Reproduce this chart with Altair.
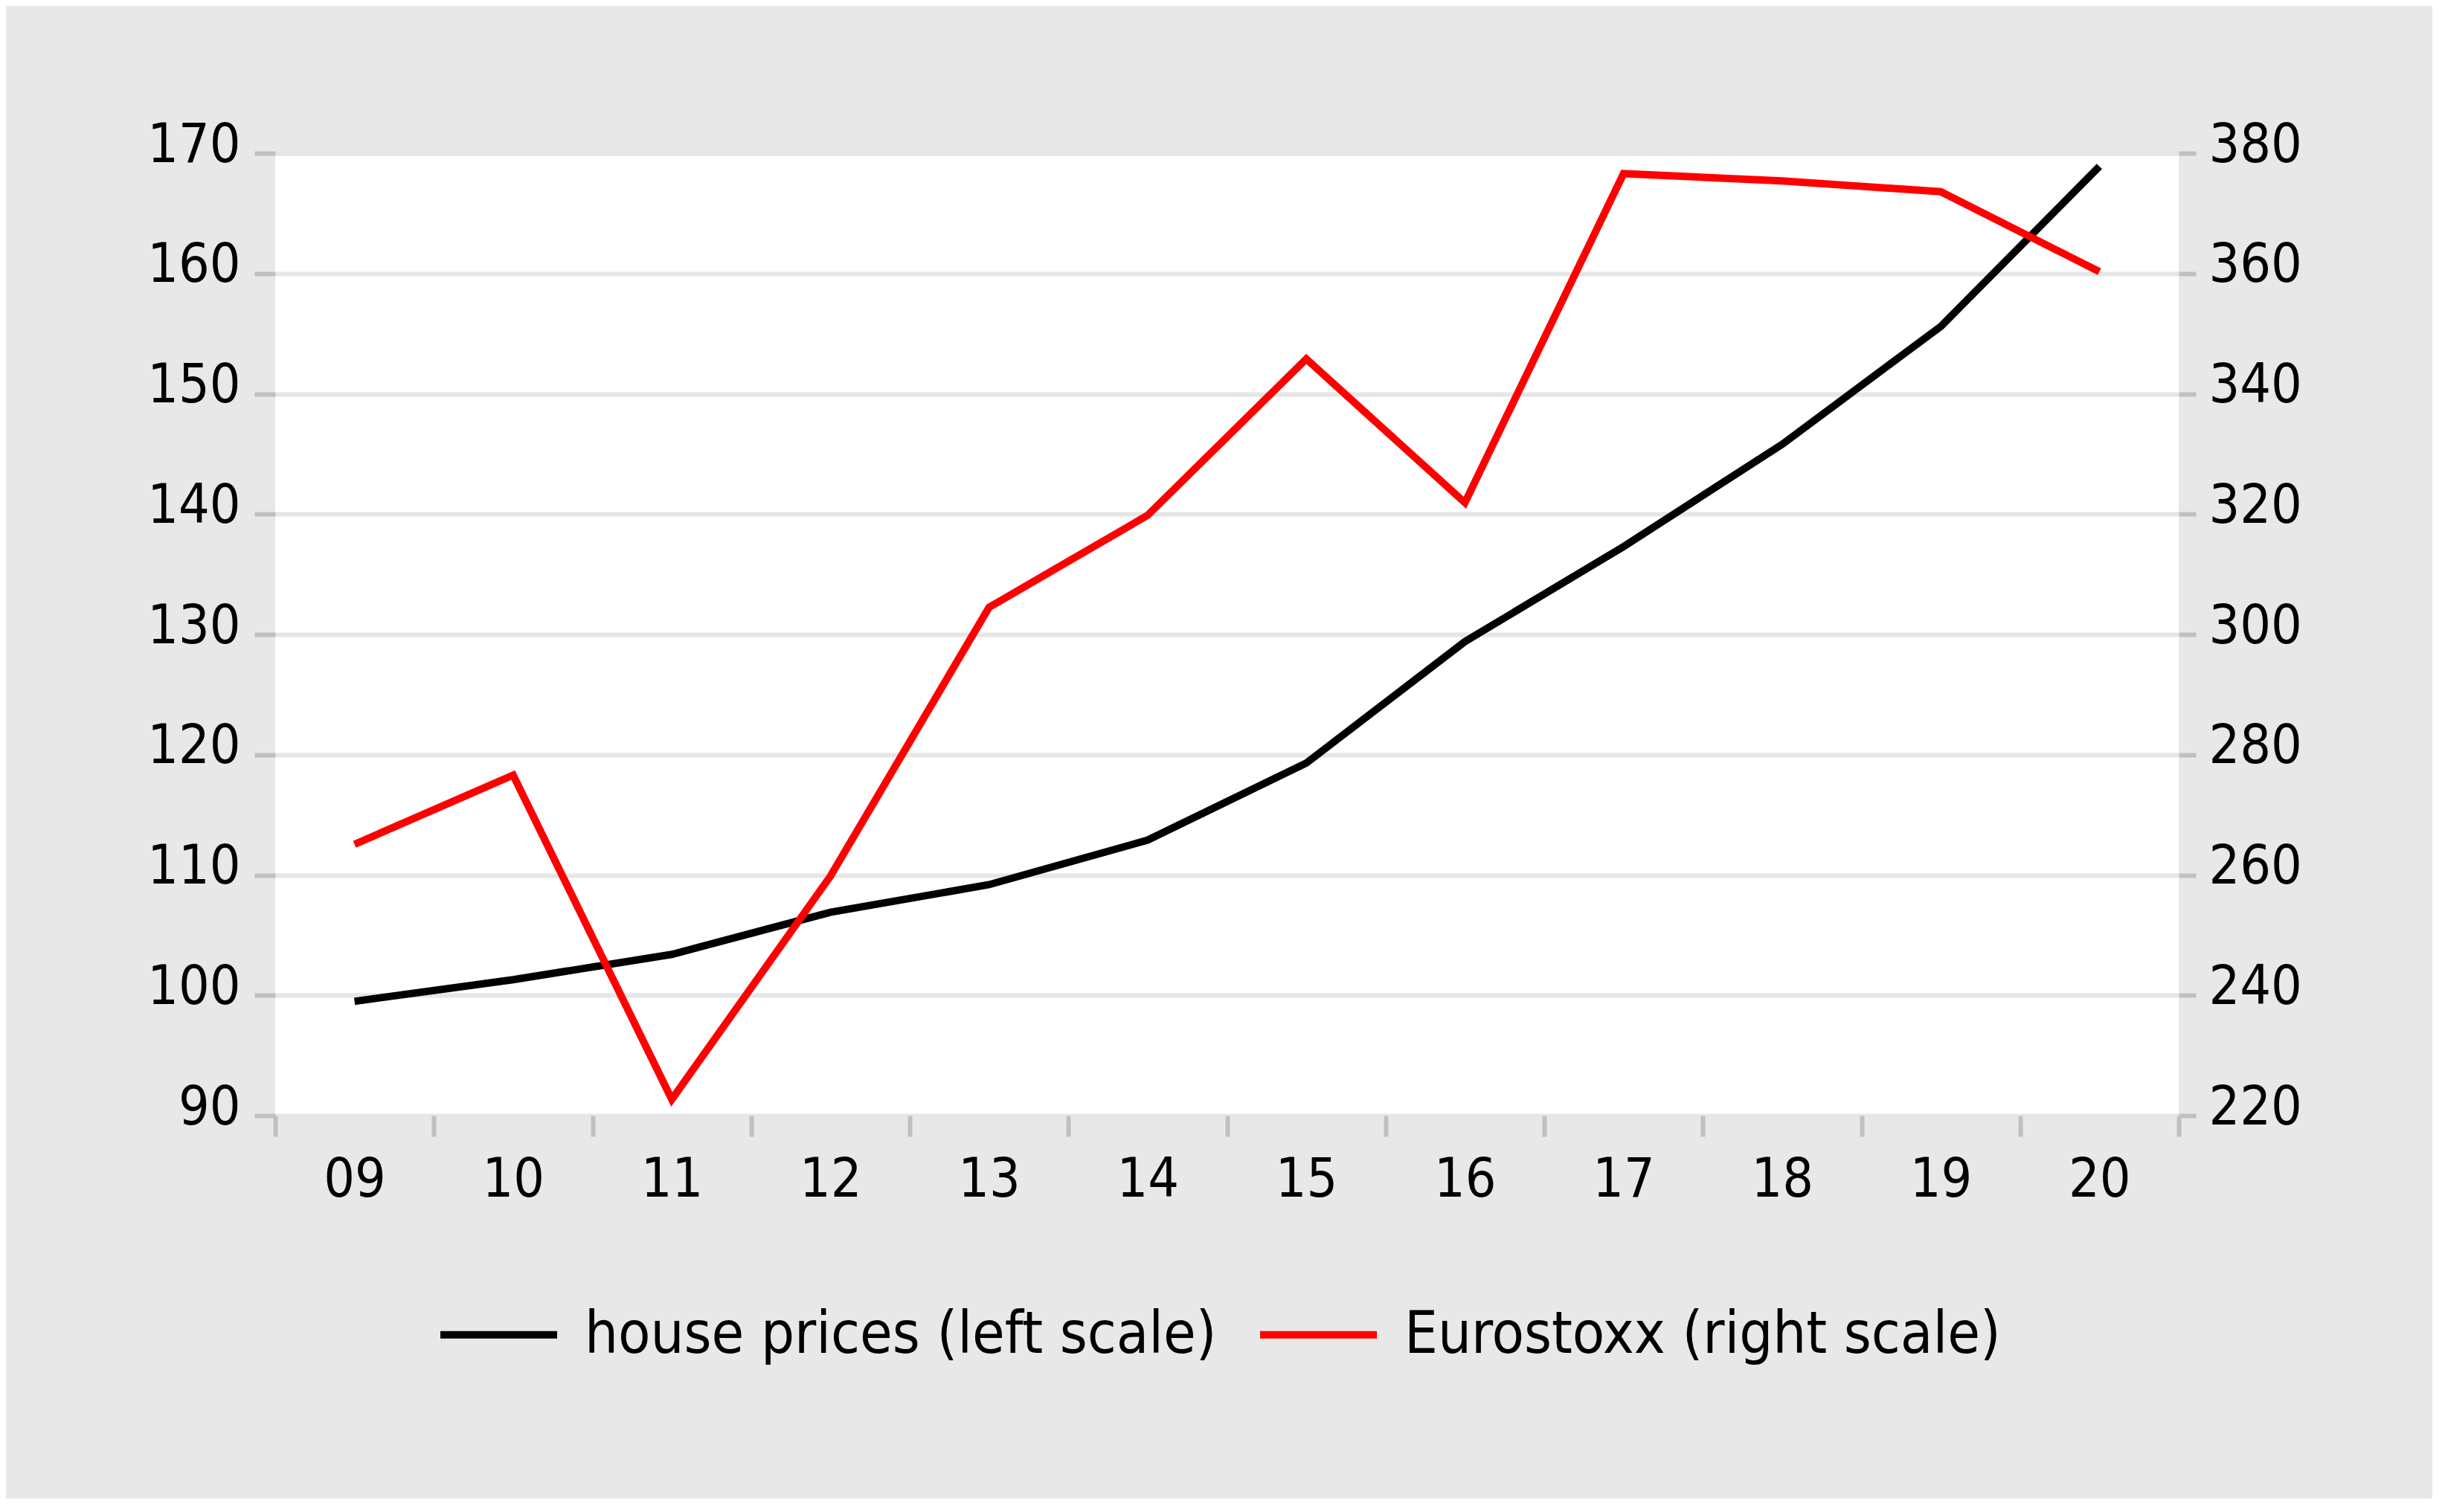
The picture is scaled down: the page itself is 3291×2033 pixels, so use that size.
import altair as alt
import pandas as pd

years = ["09", "10", "11", "12", "13", "14", "15", "16", "17", "18", "19", "20"]
house_prices = [99.5, 101.3, 103.4, 106.9, 109.2, 112.9, 119.3, 129.4, 137.3, 145.8, 155.6, 168.9]
eurostoxx = [265.1, 276.6, 222.7, 259.8, 304.5, 319.8, 345.8, 321.9, 376.6, 375.4, 373.6, 360.3]
series_names = ["house prices (left scale)", "Eurostoxx (right scale)"]
left_ticks = [90, 100, 110, 120, 130, 140, 150, 160, 170]
right_ticks = [220, 240, 260, 280, 300, 320, 340, 360, 380]

rows = []
for y, v in zip(years, house_prices):
    rows.append({"year": y, "series": series_names[0], "value": v})
for y, v in zip(years, eurostoxx):
    rows.append({"year": y, "series": series_names[1], "value": v})
df = pd.DataFrame(rows)

FONT = "DejaVu Sans Condensed, DejaVu Sans"

x_enc = alt.X(
    "year:O",
    bandPosition=0.5,
    sort=years,
    scale=alt.Scale(type="band", paddingInner=0, paddingOuter=0, domain=years),
    axis=alt.Axis(
        title=None, labelAngle=0, tickBand="extent", domain=False, grid=False,
        ticks=True, tickColor="#c0c0c0", tickWidth=6, tickSize=28,
        labelFontSize=73, labelFont=FONT, labelColor="black", labelPadding=22,
    ),
)

color_enc = alt.Color(
    "series:N",
    scale=alt.Scale(domain=series_names, range=["#000000", "#ff0000"]),
    legend=alt.Legend(
        title=None, orient="none", direction="horizontal",
        legendX=217, legendY=1505, symbolType="stroke", symbolSize=24649,
        symbolStrokeWidth=10, labelFontSize=79, labelFont=FONT, labelColor="black",
        labelOffset=32, columnPadding=38, padding=0, labelLimit=2000,
    ),
)

base = alt.Chart(df)

left = base.transform_filter(alt.datum.series == series_names[0]).mark_line(
    strokeWidth=10, strokeJoin="miter"
).encode(
    x=x_enc,
    y=alt.Y(
        "value:Q",
        scale=alt.Scale(domain=[90, 170], nice=False, zero=False),
        axis=alt.Axis(
            title=None, orient="left", values=left_ticks, domain=False,
            grid=True, gridColor="#e6e6e6", gridWidth=6,
            tickColor="#c0c0c0", tickWidth=6, tickSize=28,
            labelFontSize=73, labelFont=FONT, labelColor="black",
            labelPadding=19, labelOffset=-11,
        ),
    ),
    color=color_enc,
)

right = base.transform_filter(alt.datum.series == series_names[1]).mark_line(
    strokeWidth=10, strokeJoin="miter"
).encode(
    x=x_enc,
    y=alt.Y(
        "value:Q",
        scale=alt.Scale(domain=[220, 380], nice=False, zero=False),
        axis=alt.Axis(
            title=None, orient="right", values=right_ticks, domain=False,
            grid=False, tickColor="#c0c0c0", tickWidth=6, tickSize=23,
            labelFontSize=73, labelFont=FONT, labelColor="black",
            labelPadding=17, labelOffset=-11,
        ),
    ),
    color=color_enc,
)

chart = alt.layer(left, right).resolve_scale(y="independent", color="shared").properties(
    width=2559,
    height=1294,
    padding={"left": 362, "top": 198, "right": 341, "bottom": 515},
    autosize=alt.AutoSizeParams(type="none"),
    background="#e8e8e8",
).configure_view(fill="white", stroke=None)

chart.save("out.html", embed_options={"renderer": "svg", "actions": False})
